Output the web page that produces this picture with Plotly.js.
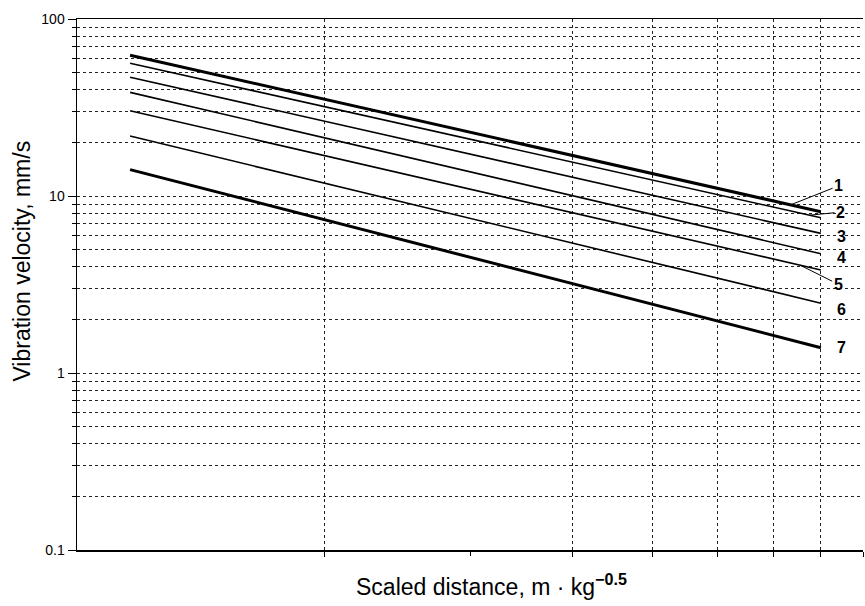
<!DOCTYPE html>
<html>
<head>
<meta charset="utf-8">
<script src="https://cdn.plot.ly/plotly-3.0.1.min.js"></script>
<style>html,body{margin:0;padding:0;background:#fff}#chart{width:865px;height:606px}</style>
</head>
<body>
<div id="chart"></div>
<script>
// Scaled distance endpoints of each straight line (log-log)
const xEnds = [11.6, 80];
const curveNames = ["1", "2", "3", "4", "5", "6", "7"];
const velStart = [62.4, 56.3, 46.9, 38.5, 30.3, 21.8, 14.1];
const velEnd   = [8.15, 7.54, 6.15, 4.72, 3.82, 2.48, 1.39];
const lineWidths = [3, 1.6, 1.6, 1.6, 1.6, 1.6, 3];
const yTickVals = [0.1, 1, 10, 100];
const yTickText = ["0.1", "1", "10", "100"];
const xGridVals = [20, 40, 50, 60, 70, 80, 90];
const xMinorTicks = [30];

function yOnLine(i, x) {
  const lx0 = Math.log10(xEnds[0]), lx1 = Math.log10(xEnds[1]);
  const ly0 = Math.log10(velStart[i]), ly1 = Math.log10(velEnd[i]);
  const t = (Math.log10(x) - lx0) / (lx1 - lx0);
  return ly0 + t * (ly1 - ly0);
}

const traces = curveNames.map((n, i) => ({
  x: xEnds,
  y: [velStart[i], velEnd[i]],
  type: 'scatter',
  mode: 'lines',
  name: n,
  line: {color: '#000', width: lineWidths[i]},
  hoverinfo: 'skip'
}));

const FONT = 'Liberation Sans, Arial, sans-serif';
const labelFont = {family: FONT, size: 16, color: '#000', weight: 'bold'};
const annotations = [];
// labels with leader lines: 1, 2, 5
const leader = {0: {hx: 73.5, ax: 48, ay: -19}, 1: {hx: 77.5, ax: 31, ay: -3}, 4: {hx: 75.5, ax: 38, ay: 19}};
// labels without leader: vertical offsets from line end
const plain = {2: -3, 3: -4, 5: -6, 6: 0};
curveNames.forEach((n, i) => {
  if (leader[i]) {
    const L = leader[i];
    annotations.push({
      x: Math.log10(L.hx), y: yOnLine(i, L.hx), xref: 'x', yref: 'y',
      text: '<b>' + n + '</b>', showarrow: true, arrowhead: 0, arrowwidth: 1,
      arrowcolor: '#000', ax: L.ax, ay: L.ay, standoff: 0, startstandoff: 0,
      font: labelFont
    });
  } else {
    annotations.push({
      x: Math.log10(xEnds[1]), y: Math.log10(velEnd[i]), xref: 'x', yref: 'y',
      text: '<b>' + n + '</b>', showarrow: false, xshift: 21, yshift: plain[i],
      font: labelFont
    });
  }
});

// axis titles (placed as annotations to match reference position)
annotations.push({
  xref: 'paper', yref: 'paper', x: -0.07, y: 0.545,
  text: 'Vibration velocity, mm/s', textangle: -90, showarrow: false,
  xanchor: 'center', yanchor: 'middle',
  font: {family: FONT, size: 23, color: '#000'}
});
annotations.push({
  xref: 'paper', yref: 'paper', x: 0.527, y: -0.066,
  text: 'Scaled distance, m \u00b7 kg<sup><b>\u22120.5</b></sup>', showarrow: false,
  xanchor: 'center', yanchor: 'middle',
  font: {family: FONT, size: 23, color: '#000'}
});

const layout = {
  width: 865, height: 606,
  margin: {l: 77, r: 2, t: 19, b: 56},
  paper_bgcolor: '#fff', plot_bgcolor: '#fff',
  showlegend: false,
  font: {family: FONT, color: '#000'},
  xaxis: {
    type: 'log', range: [1, Math.log10(90)],
    tickvals: xGridVals, showticklabels: false,
    ticks: 'outside', ticklen: 5, tickcolor: '#000',
    showgrid: true, gridcolor: '#222', griddash: 'dot', gridwidth: 1,
    minor: {tickvals: xMinorTicks, ticks: 'outside', ticklen: 4, tickcolor: '#000', showgrid: false},
    showline: true, linecolor: '#000', linewidth: 1.5, mirror: true,
    zeroline: false
  },
  yaxis: {
    type: 'log', range: [-1, 2],
    tickvals: yTickVals, ticktext: yTickText,
    ticks: 'outside', ticklen: 8, tickcolor: '#000',
    tickfont: {size: 14},
    showgrid: true, gridcolor: '#222', griddash: 'dot', gridwidth: 1,
    minor: {dtick: 'D1', ticks: 'outside', ticklen: 4, tickcolor: '#000',
            showgrid: true, gridcolor: '#222', griddash: 'dot', gridwidth: 1},
    showline: true, linecolor: '#000', linewidth: 1.5,
    zeroline: false
  },
  annotations: annotations
};

Plotly.newPlot('chart', traces, layout, {staticPlot: true});
</script>
</body>
</html>
